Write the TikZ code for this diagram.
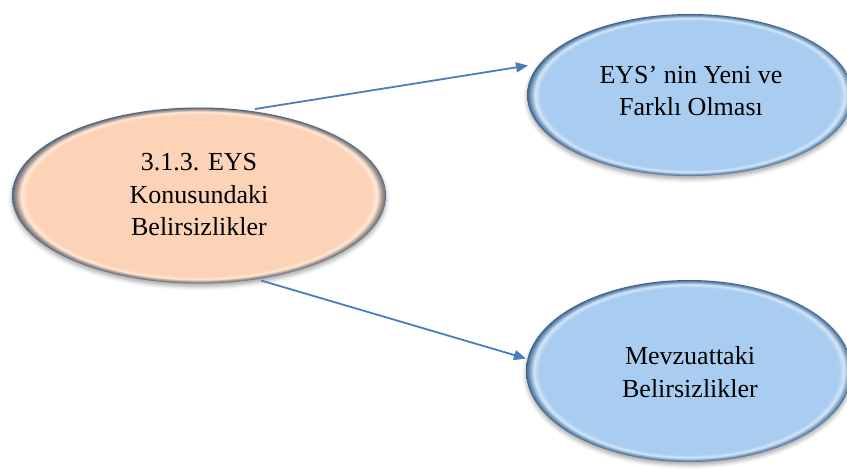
\documentclass[tikz,border=0pt]{standalone}
\usepackage{fontspec}
\setmainfont{Liberation Serif}
\usetikzlibrary{shapes.geometric,arrows.meta,shadows.blur}

% bubble colours
\definecolor{bmain}{HTML}{A9CDF1}
\definecolor{bhi}{HTML}{D4E6F8}
\definecolor{brim}{HTML}{7FA3C9}
\definecolor{brimdk}{HTML}{3F6186}
\definecolor{pmain}{HTML}{FCD3B6}
\definecolor{phi}{HTML}{FEE8DA}
\definecolor{prim}{HTML}{B39C8E}
\definecolor{primdk}{HTML}{4A6483}
\definecolor{arrowblue}{HTML}{4A7EBB}

% bevelled fill: flat centre, light inner ring, dark outer rim
% (the path outline sits at 25bp of the shading)
\pgfdeclareradialshading{bluebevel}{\pgfpoint{0bp}{0bp}}{%
  color(0bp)=(bmain); color(23bp)=(bmain); color(23.8bp)=(bhi);
  color(24.4bp)=(brim); color(25bp)=(brimdk); color(50bp)=(brimdk)}
\pgfdeclareradialshading{peachbevel}{\pgfpoint{0bp}{0bp}}{%
  color(0bp)=(pmain); color(23bp)=(pmain); color(23.8bp)=(phi);
  color(24.4bp)=(prim); color(25bp)=(primdk); color(50bp)=(primdk)}

\tikzset{
  bubble/.style={ellipse, inner sep=0pt, shading=#1,
    blur shadow={shadow xshift=0pt, shadow yshift=-3pt,
      shadow blur radius=4pt, shadow opacity=35}},
  label text/.style={align=center, inner sep=0pt,
    font=\fontsize{26}{32.5}\selectfont},
  link/.style={draw=arrowblue, line width=1.8pt,
    -{Triangle[length=12pt,width=10pt]}},
}

\begin{document}
\begin{tikzpicture}[x=1pt,y=-1pt]
  \useasboundingbox (0,0) rectangle (847,469);

  % ellipses
  \node[bubble=peachbevel, minimum width=374pt, minimum height=176pt]
    (src) at (199,195.5) {};
  \node[bubble=bluebevel, minimum width=326pt, minimum height=162pt]
    (new) at (690,95) {};
  \node[bubble=bluebevel, minimum width=326pt, minimum height=182pt]
    (law) at (689,371) {};

  % texts
  \node[label text] (src-t) at (199,195) {3.1.3. EYS\\Konusundaki\\Belirsizlikler};
  \node[label text] (new-t) at (691,91) {EYS’ nin Yeni ve\\Farklı Olması};
  \node[label text] (law-t) at (690,372) {Mevzuattaki\\Belirsizlikler};

  % connector ends
  \coordinate (a-from) at (255,109);
  \coordinate (a-to) at (528,65.5);
  \coordinate (b-from) at (261,280.5);
  \coordinate (b-to) at (526,358.5);

  \draw[link] (a-from) -- (a-to);
  \draw[link] (b-from) -- (b-to);
\end{tikzpicture}
\end{document}
